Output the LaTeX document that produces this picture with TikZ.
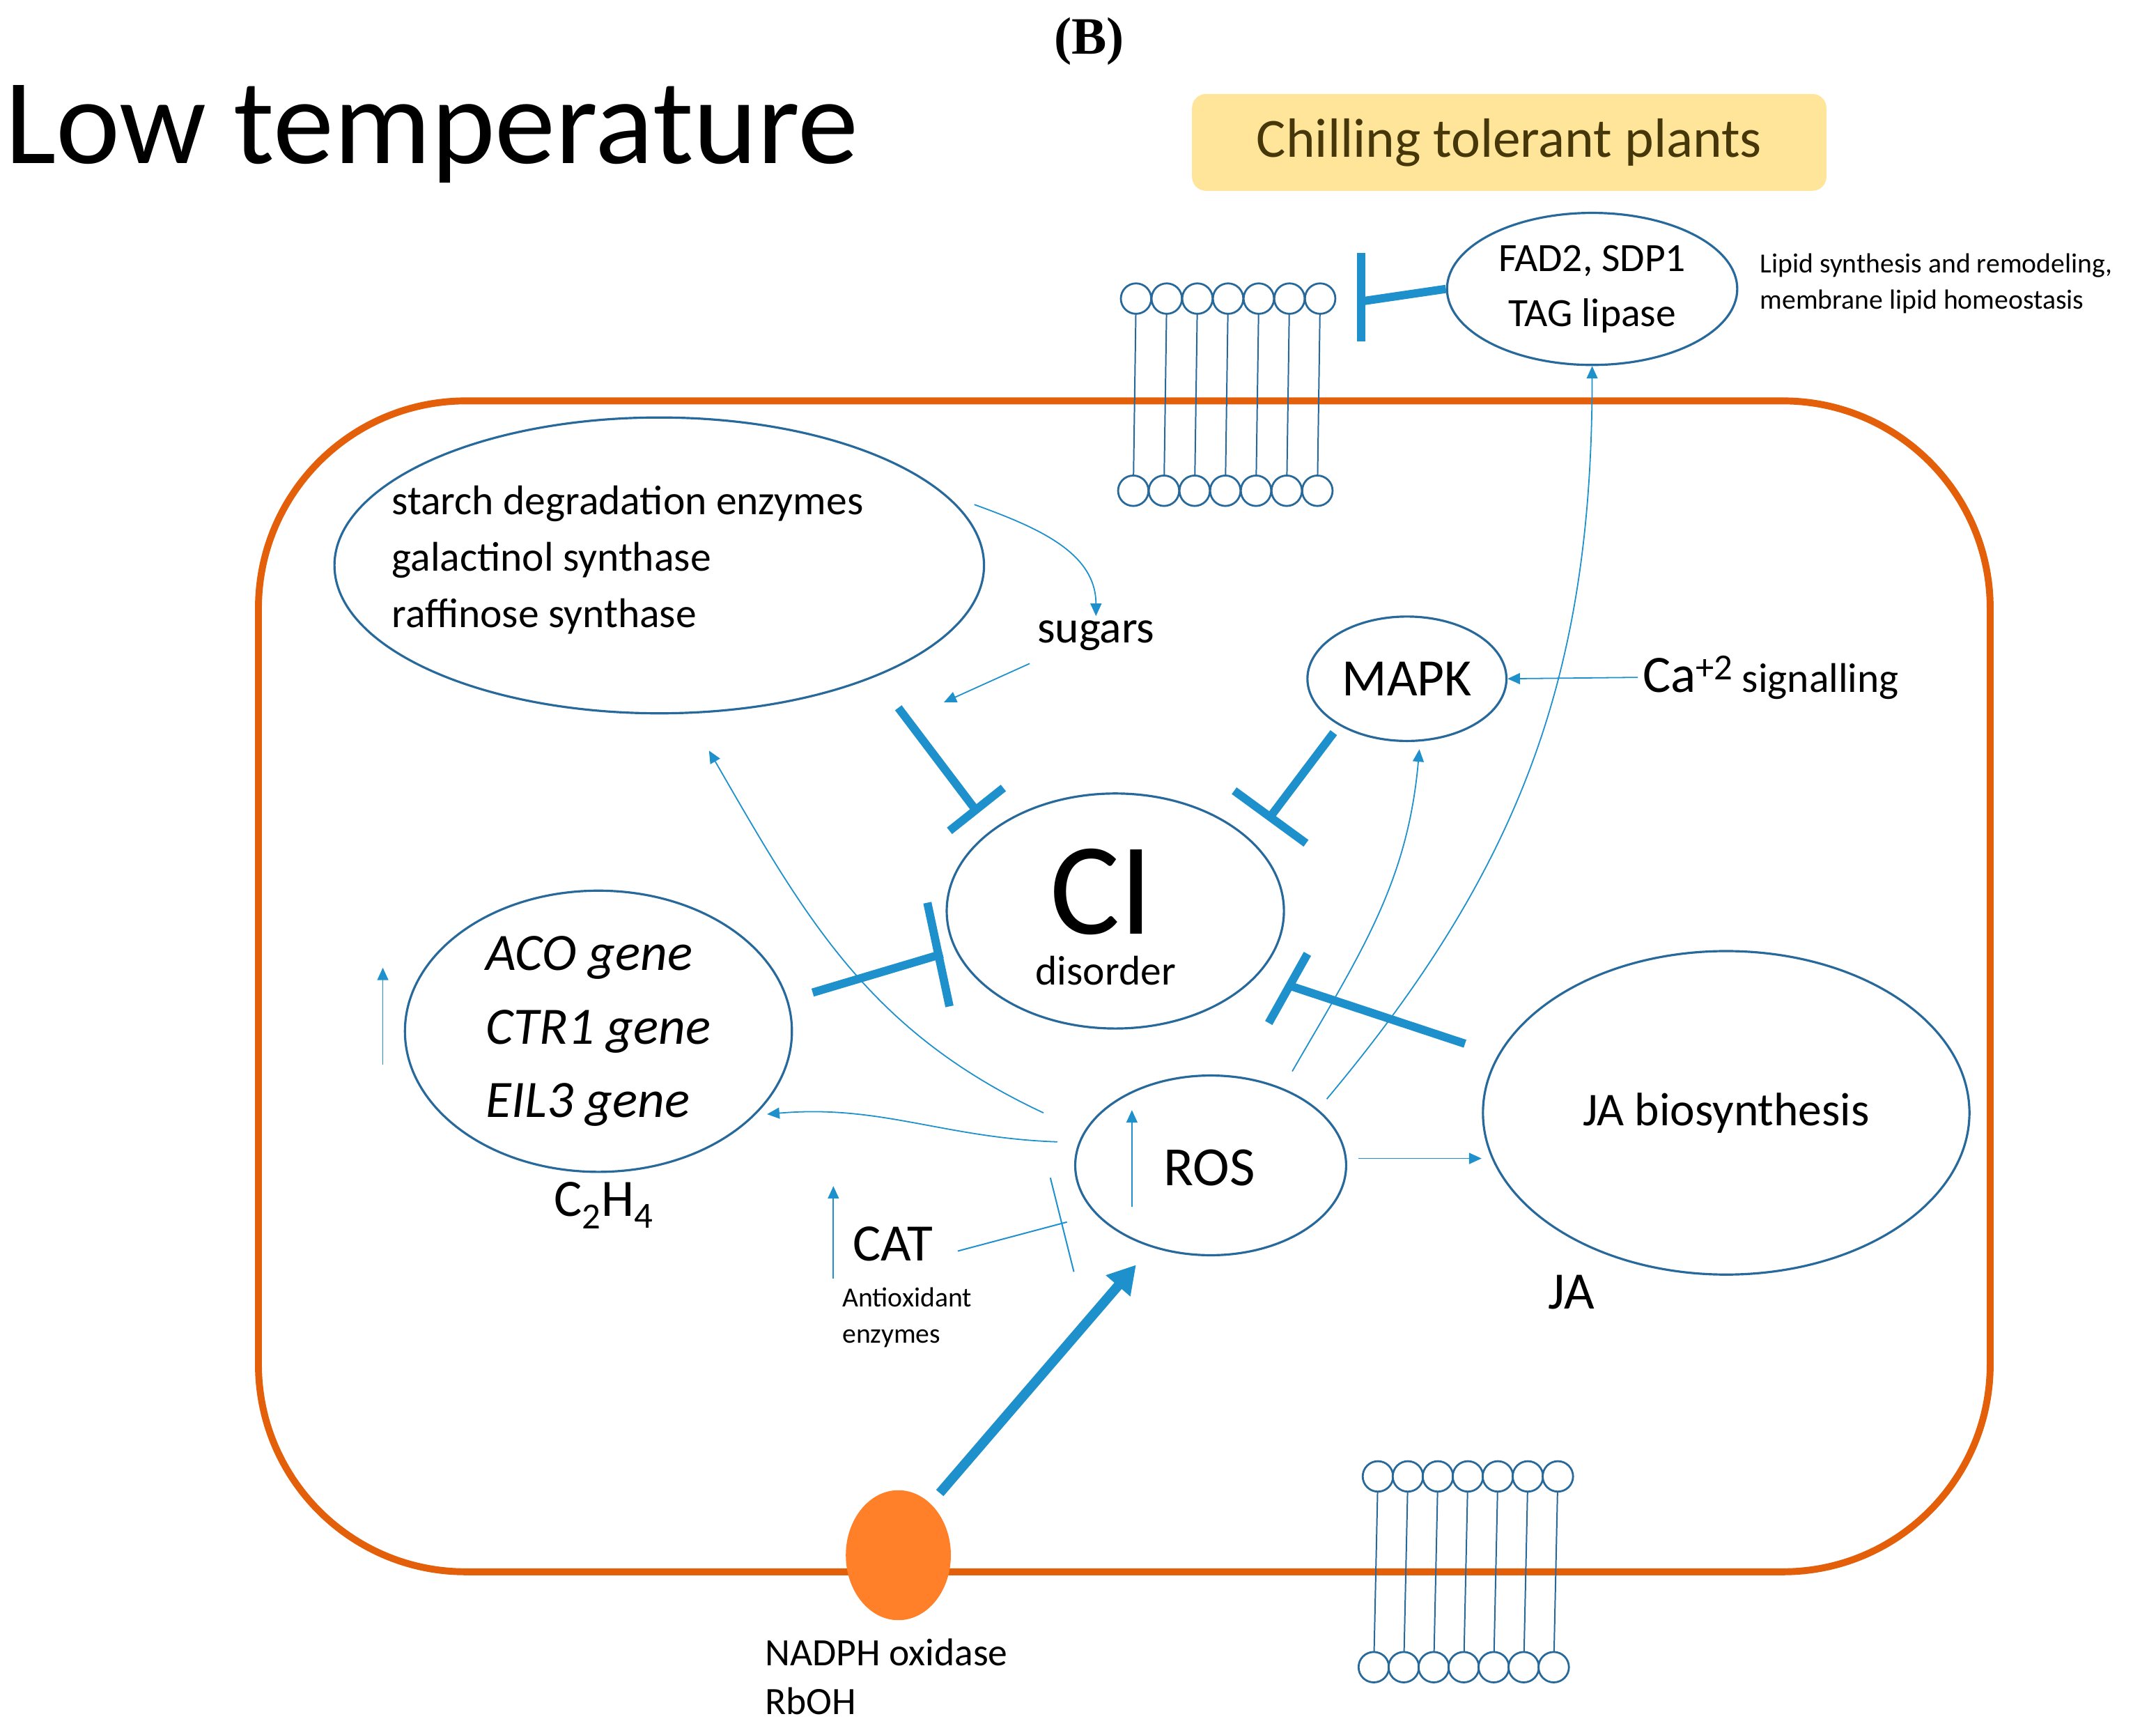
\documentclass[tikz,border=0pt]{standalone}
\usepackage{fontspec}
\setmainfont{Carlito}
\newfontfamily\tms{Liberation Serif}
\usetikzlibrary{arrows.meta,shapes.geometric}
\definecolor{bl}{RGB}{30,145,205}
\definecolor{el}{RGB}{40,105,155}
\definecolor{org}{RGB}{228,95,10}
\definecolor{nad}{RGB}{255,128,40}
\definecolor{yel}{RGB}{255,229,153}
\definecolor{brn}{RGB}{70,55,10}
\tikzset{
 ell/.style={draw=el,line width=1.6pt,ellipse},
 thin/.style={draw=bl,line width=0.9pt,-{Triangle[length=9pt,width=8pt]}},
 inh/.style={draw=bl,line width=6pt},
 lip/.style={draw=el,line width=1.4pt,fill=white},
 fs/.style={font=\fontsize{#1}{#1}\selectfont},
}
\newcommand{\membrane}[5]{% x1 y1 x2 y2 step
 \foreach \i in {0,...,6}{
  \draw[el,line width=1pt] (#1+\i*#5,#2) -- (#3+\i*#5,#4);}
 \foreach \i in {0,...,6}{
  \draw[lip] (#1+\i*#5,#2) circle (11);
  \draw[lip] (#3+\i*#5,#4) circle (11);}
}
\begin{document}
\begin{tikzpicture}[x=1pt,y=-1pt]
\useasboundingbox (0,0) rectangle (1560,1250);
\node[font=\tms\bfseries\fontsize{38}{38}\selectfont] (B) at (788,30) {(B)};
\node[anchor=west,fs=88] (lt) at (0,97) {Low temperature};
\node[fill=yel,rounded corners=10pt,minimum width=459pt,minimum height=70pt,fs=40,text=brn] (ctp) at (1092,103) {Chilling tolerant plants};
% cell
\draw[org,line width=5pt,rounded corners=150pt] (187,290) rectangle (1440,1137);
% membranes
\membrane{822}{216}{820}{355}{22.2}
\membrane{997}{1068}{994}{1206}{21.7}
% FAD2
\node[ell,minimum width=210pt,minimum height=110pt,align=center,font=\fontsize{29}{40}\selectfont] (fad) at (1152,209) {FAD2, SDP1\\TAG lipase};
\node[anchor=west,align=left,font=\fontsize{20}{26}\selectfont] (lip) at (1270,205) {Lipid synthesis and remodeling,\\membrane lipid\ homeostasis};
\coordinate (fb) at (985,218);
\draw[inh] (fad.west) -- (fb);
\draw[inh] (985,183) -- (985,247);
% starch
\node[ell,minimum width=470pt,minimum height=214pt] (st) at (477,409) {};
\node[anchor=west,align=left,font=\fontsize{30}{41}\selectfont] (stt) at (280,405) {starch degradation enzymes\\galactinol synthase\\raffinose synthase};
\node[fs=33] (sug) at (793,460) {sugars};
\draw[thin] (705,365) to[out=-20,in=90] (sug.north);
\draw[thin] (745,480) -- (683,508);
% CI
\node[ell,minimum width=244pt,minimum height=170pt] (ci) at (807,659) {};
\node[fs=95] (cit) at (797,645) {CI};
\node[fs=30] (dis) at (800,702) {disorder};
\draw[inh] (650,512) -- (706,586);
\draw[inh] (687,601) -- (726,570);
% MAPK
\node[ell,minimum width=144pt,minimum height=90pt,fs=38] (mapk) at (1018,491) {MAPK};
\node[anchor=west,fs=38] (ca) at (1185,490) {Ca\textsuperscript{+2}\,{\fontsize{30}{30}\selectfont signalling}};
\draw[thin] (ca.west) -- (mapk.east);
\draw[inh] (965,530) -- (919,591);
\draw[inh] (893,572) -- (945,610);
% ACO
\node[ell,minimum width=280pt,minimum height=190pt,align=left,font=\itshape\fontsize{38}{53}\selectfont] (aco) at (433,746) {ACO gene\\CTR1 gene\\EIL3 gene};
\coordinate (a1) at (277,770); \coordinate (a2) at (277,700);
\draw[thin] (a1) -- (a2);
\draw[inh] (588,718) -- (682,690);
\draw[inh] (671,653) -- (687,728);
\node[fs=38] (c2h4) at (437,872) {C\textsubscript{2}H\textsubscript{4}};
% JA
\node[ell,minimum width=352pt,minimum height=234pt,fs=34] (ja) at (1249,805) {JA biosynthesis};
\node[fs=38] (jat) at (1137,935) {JA};
\draw[inh] (1060,755) -- (933,713);
\draw[inh] (918,740) -- (946,690);
% ROS
\node[ell,minimum width=196pt,minimum height=130pt] (ros) at (876,843) {};
\node[fs=40] (rost) at (875,845) {ROS};
\draw[thin] (819,873) -- (819,803);
\draw[thin] (983,838) -- (1072,838);
\draw[thin] (765,826) to[out=178,in=5] (555,806);
\draw[thin] (755,805) to[out=155,in=-60] (513,543);
\draw[thin] (935,775) to[out=60,in=-95] (1027,542);
\draw[thin] (960,795) to[out=50,in=-90] (fad.south);
% CAT
\draw[thin] (603,925) -- (603,858);
\node[fs=38] (cat) at (646,900) {CAT};
\node[anchor=west,align=left,font=\fontsize{20}{26}\selectfont] (ant) at (606,953) {Antioxidant\\enzymes};
\draw[bl,line width=1pt] (693,905) -- (772,884);
\draw[bl,line width=1pt] (760,852) -- (777,920);
% NADPH
\node[ellipse,fill=nad,minimum width=76pt,minimum height=94pt] (nad) at (650,1125) {};
\node[anchor=west,align=left,font=\fontsize{28}{35}\selectfont] (nadt) at (550,1213) {NADPH oxidase\\RbOH};
\draw[bl,line width=7pt,-{Triangle[length=20pt,width=22pt]}] (680,1080) -- (822,915);
\end{tikzpicture}
\end{document}
